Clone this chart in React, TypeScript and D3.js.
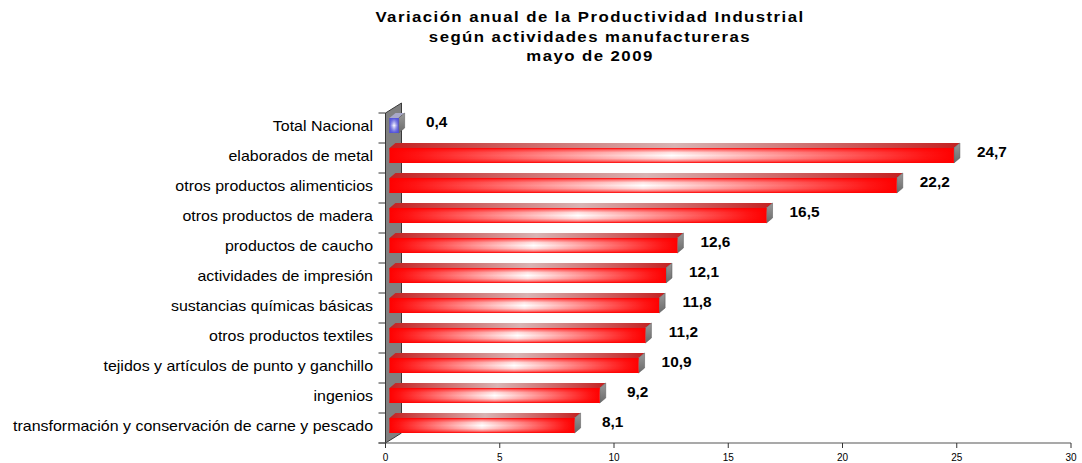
import React from "react";
import * as d3 from "d3";

const titleLines = [
  "Variación anual de la Productividad  Industrial",
  "según actividades manufactureras",
  "mayo de 2009",
];

const categories = [
  "Total Nacional",
  "elaborados de metal",
  "otros productos alimenticios",
  "otros productos de madera",
  "productos de caucho",
  "actividades de impresión",
  "sustancias químicas básicas",
  "otros productos textiles",
  "tejidos y artículos de punto y ganchillo",
  "ingenios",
  "transformación y conservación de carne y pescado",
];

const values = [0.4, 24.7, 22.2, 16.5, 12.6, 12.1, 11.8, 11.2, 10.9, 9.2, 8.1];

const xTicks = [0, 5, 10, 15, 20, 25, 30];

const W = 1082;
const H = 463;
const FONT = "'Liberation Sans', Arial, sans-serif";

export default function App() {
  const x = d3.scaleLinear().domain([0, 30]).range([385.5, 1071]);
  const y = d3.scaleBand<string>().domain(categories).range([113, 443]).padding(0);
  const fmt = (v: number) => d3.format(".1f")(v).replace(".", ",");

  const wallDx = 16;
  const wallDy = -10;
  const barShift = 4;
  const barOff = 5;
  const barH = 15;
  const dDx = 6;
  const dDy = -5;

  const x0 = x(0);
  const yTop = y.range()[0];
  const yBot = y.range()[1];

  return (
    <svg
      width={W}
      height={H}
      viewBox={`0 0 ${W} ${H}`}
      style={{ position: "absolute", left: 0, top: 0, display: "block", background: "#fff" }}
    >
      <defs>
        <linearGradient id="redH" x1="0" y1="0" x2="1" y2="0">
          <stop offset="0" stopColor="#ff0000" />
          <stop offset="0.05" stopColor="#ff1515" />
          <stop offset="0.5" stopColor="#ffffff" />
          <stop offset="0.95" stopColor="#ff1515" />
          <stop offset="1" stopColor="#ff0000" />
        </linearGradient>
        <linearGradient id="redV" x1="0" y1="0" x2="0" y2="1">
          <stop offset="0" stopColor="#ff0000" stopOpacity="1" />
          <stop offset="0.12" stopColor="#ff0000" stopOpacity="0.5" />
          <stop offset="0.3" stopColor="#ff0000" stopOpacity="0.12" />
          <stop offset="0.5" stopColor="#ff0000" stopOpacity="0" />
          <stop offset="0.7" stopColor="#ff0000" stopOpacity="0.12" />
          <stop offset="0.88" stopColor="#ff0000" stopOpacity="0.5" />
          <stop offset="1" stopColor="#ff0000" stopOpacity="1" />
        </linearGradient>
        <linearGradient id="redTop" x1="0" y1="0" x2="1" y2="0">
          <stop offset="0" stopColor="#c42020" />
          <stop offset="0.5" stopColor="#d8b4b4" />
          <stop offset="1" stopColor="#c42020" />
        </linearGradient>
        <linearGradient id="blueH" x1="0" y1="0" x2="1" y2="0">
          <stop offset="0" stopColor="#5050d8" />
          <stop offset="0.5" stopColor="#ffffff" />
          <stop offset="1" stopColor="#5050d8" />
        </linearGradient>
        <linearGradient id="blueV" x1="0" y1="0" x2="0" y2="1">
          <stop offset="0" stopColor="#5050d8" stopOpacity="1" />
          <stop offset="0.5" stopColor="#5050d8" stopOpacity="0" />
          <stop offset="1" stopColor="#5050d8" stopOpacity="1" />
        </linearGradient>
        <linearGradient id="sideG" x1="0" y1="0" x2="0" y2="1">
          <stop offset="0" stopColor="#9a9a9a" />
          <stop offset="1" stopColor="#6a6a6a" />
        </linearGradient>
      </defs>

      {/* Title */}
      <g fontFamily={FONT} fontWeight="bold" fontSize={14} fill="#000">
        {titleLines.map((t, i) => (
          <text
            key={i}
            transform={`translate(590, ${22 + i * 19.5}) scale(1.2,1)`}
            textAnchor="middle"
            letterSpacing={1.2}
          >
            {t}
          </text>
        ))}
      </g>

      {/* Back wall */}
      <polygon
        points={`${x0},${yTop} ${x0 + wallDx},${yTop + wallDy} ${x0 + wallDx},${yBot + wallDy} ${x0},${yBot}`}
        fill="#808080"
        stroke="#3a3a3a"
        strokeWidth={1}
      />

      {/* Category axis */}
      <line x1={x0} x2={x0} y1={yTop} y2={yBot} stroke="#333" strokeWidth={1} />
      {categories.map((c) => (
        <line key={"t" + c} x1={x0 - 7} x2={x0} y1={y(c)!} y2={y(c)!} stroke="#333" strokeWidth={1} />
      ))}
      <line x1={x0 - 7} x2={x0} y1={yBot} y2={yBot} stroke="#333" strokeWidth={1} />

      {/* Value axis */}
      <line x1={x0 - 7} x2={x(30)} y1={yBot} y2={yBot} stroke="#555" strokeWidth={1.2} />
      {xTicks.map((t) => (
        <g key={"x" + t}>
          <line x1={x(t)} x2={x(t)} y1={yBot} y2={yBot + 5} stroke="#333" strokeWidth={1} />
          <text x={x(t)} y={461} textAnchor="middle" fontFamily={FONT} fontSize={10} fill="#000">
            {t}
          </text>
        </g>
      ))}

      {/* Bars */}
      {categories.map((c, i) => {
        const v = values[i];
        const bx0 = x0 + barShift;
        const bx1 = x(v) + barShift;
        const by0 = y(c)! + barOff;
        const by1 = by0 + barH;
        const isTotal = i === 0;
        const frontH = isTotal ? "url(#blueH)" : "url(#redH)";
        const frontV = isTotal ? "url(#blueV)" : "url(#redV)";
        const topFill = isTotal ? "#a8a8c8" : "url(#redTop)";
        return (
          <g key={"b" + c}>
            <polygon
              points={`${bx0},${by0} ${bx0 + dDx},${by0 + dDy} ${bx1 + dDx},${by0 + dDy} ${bx1},${by0}`}
              fill={topFill}
            />
            <polygon
              points={`${bx1},${by0} ${bx1 + dDx},${by0 + dDy} ${bx1 + dDx},${by1 + dDy} ${bx1},${by1}`}
              fill="url(#sideG)"
              stroke="#555"
              strokeWidth={0.5}
            />
            <rect x={bx0} y={by0} width={bx1 - bx0} height={barH} fill={frontH} />
            <rect x={bx0} y={by0} width={bx1 - bx0} height={barH} fill={frontV} />
          </g>
        );
      })}

      {/* Value labels */}
      {categories.map((c, i) => (
        <text
          key={"v" + c}
          transform={`translate(${x(values[i]) + barShift + 38}, ${y(c)! + barOff + barH / 2 - 3}) scale(1.1,1)`}
          textAnchor="middle"
          dominantBaseline="central"
          fontFamily={FONT}
          fontWeight="bold"
          fontSize={14}
          fill="#000"
        >
          {fmt(values[i])}
        </text>
      ))}

      {/* Category labels */}
      {categories.map((c) => (
        <text
          key={"c" + c}
          transform={`translate(373, ${y(c)! + y.bandwidth() / 2 - 2}) scale(1.14,1)`}
          textAnchor="end"
          dominantBaseline="central"
          fontFamily={FONT}
          fontSize={14}
          fill="#000"
        >
          {c}
        </text>
      ))}
    </svg>
  );
}
